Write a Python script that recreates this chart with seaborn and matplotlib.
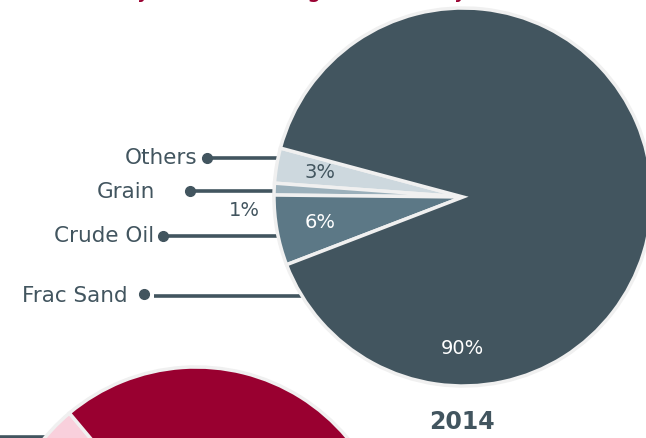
import matplotlib
matplotlib.use("Agg")
from matplotlib import pyplot as plt
import seaborn as sns
import numpy as np

W, H = 646, 438  # canvas in pixels, axes use pixel units (y up)

# data
commodities = ["Others", "Grain", "Crude Oil", "Frac Sand"]
share_2014 = [3, 1, 6, 90]
share_2015 = [8, 3, 9, 80]  # only a corner of this pie is on the canvas
colors_2014 = ["#cdd8de", "#9bb0bb", "#5c7886", "#42555f"]
colors_2015 = ["#f9d0dc", "#e8a0b4", "#c8607e", "#990030"]
year_label = "2014"
title = "Commodity Share of Freight Moved by Rail"

dark = "#42555f"
red = "#990030"

sns.set_theme(style="white")
plt.rcParams['font.family'] = ['DejaVu Sans']


def Y(y):
    # convert a pixel row (from top) to axes y
    return H - y


# label layout: text right edge, text row, dot, leader line (x0, x1, row)
label_layout = {
    "Others": dict(tx=197, ty=158, dot=(207, 158), line=(207, 320, 158)),
    "Grain": dict(tx=155, ty=192, dot=(190, 191), line=(190, 320, 191)),
    "Crude Oil": dict(tx=154, ty=236, dot=(163, 236), line=(163, 320, 236)),
    "Frac Sand": dict(tx=128, ty=296, dot=(144, 294), line=(154, 330, 296)),
}

fig = plt.figure(figsize=(W / 100, H / 100), dpi=100)
ax = fig.add_axes([0, 0, 1, 1])

# 2014 pie
c14 = (463, Y(197))
r14 = 189
wedges, _ = ax.pie(share_2014, colors=colors_2014, startangle=165, counterclock=True,
                   center=c14, radius=r14,
                   wedgeprops=dict(edgecolor="#f0f0f0", linewidth=2.5))

# 2015 pie (mostly off canvas)
ax.pie(share_2015, colors=colors_2015, startangle=130, counterclock=True,
       center=(196, Y(564)), radius=197,
       wedgeprops=dict(edgecolor="#f0f0f0", linewidth=2.5))

# leader lines + labels
for name in commodities:
    lay = label_layout[name]
    x0, x1, ly = lay["line"]
    ax.plot([x0, x1], [Y(ly), Y(ly)], color=dark, lw=2.6, zorder=0, solid_capstyle="butt")
    ax.plot(lay["dot"][0], Y(lay["dot"][1]), "o", color=dark, markersize=7, zorder=0)
    ax.text(lay["tx"], Y(lay["ty"]), name, ha="right", va="center", fontsize=15.5, color=dark)

# leader line for the 2015 pie
ax.plot([0, 60], [Y(437), Y(437)], color=dark, lw=2.6, zorder=0, solid_capstyle="butt")

# percentages inside the thin wedges
for w, v, col in zip(wedges, share_2014, ["dark", "", "white", ""]):
    if not col:
        continue
    mid = np.deg2rad((w.theta1 + w.theta2) / 2)
    x = c14[0] + 0.77 * r14 * np.cos(mid)
    y = c14[1] + 0.77 * r14 * np.sin(mid)
    ax.text(x, y, f"{v}%", ha="center", va="center", fontsize=14,
            color=dark if col == "dark" else "white")

ax.text(244, Y(210), f"{share_2014[1]}%", ha="center", va="center", fontsize=14, color=dark)
ax.text(462, Y(348), f"{share_2014[3]}%", ha="center", va="center", fontsize=14, color="white")

ax.text(462, Y(422), year_label, ha="center", va="center", fontsize=17,
        fontweight="bold", color=dark)

# title sits above the canvas, only descenders peek in
ax.text(15, Y(-3), title, ha="left", va="baseline", fontsize=17, color=red)

ax.set_xlim(0, W)
ax.set_ylim(0, H)
ax.set_aspect("equal")
ax.axis("off")

plt.savefig("out.png", dpi=100)
plt.close()
